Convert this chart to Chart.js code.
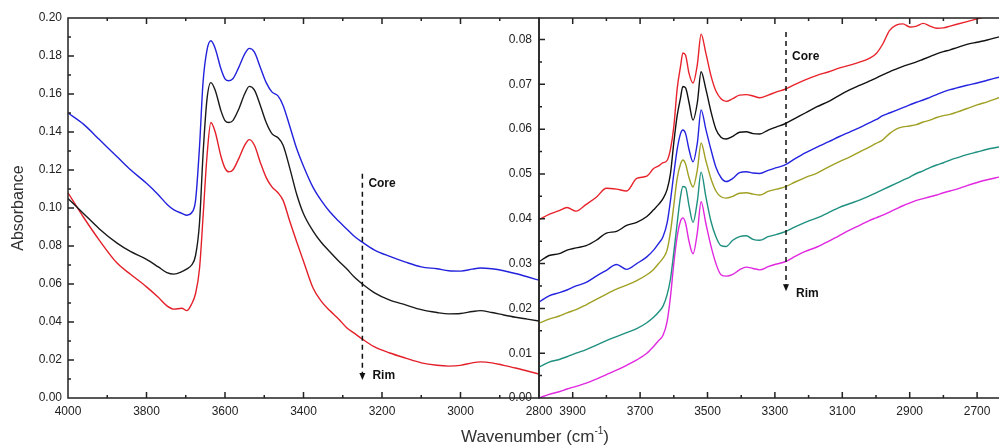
<!DOCTYPE html>
<html>
<head>
<meta charset="utf-8">
<script src="https://cdn.jsdelivr.net/npm/chart.js@4.4.1/dist/chart.umd.min.js"></script>
<style>
  html, body { margin: 0; padding: 0; background: #fff; }
  #wrap { position: relative; width: 999px; height: 446px; overflow: hidden; background: #fff; }
  #wrap canvas { position: absolute; top: 0; }
  #leftChart { left: 0; }
  #rightChart { left: 495px; }
</style>
</head>
<body>
<div id="wrap">
  <canvas id="leftChart" width="640" height="446"></canvas>
  <canvas id="rightChart" width="504" height="446"></canvas>
</div>
<script>
// painel esquerdo: número de onda (cm-1) e absorbância das três curvas
const leftWn = [4000, 3960, 3920, 3875, 3840, 3800, 3770, 3748, 3730, 3710, 3697, 3685, 3675, 3665, 3656, 3646, 3636, 3625, 3610, 3600, 3590, 3580, 3565, 3550, 3538, 3525, 3510, 3495, 3480, 3465, 3452, 3435, 3417, 3400, 3376, 3355, 3333, 3310, 3290, 3270, 3250, 3220, 3180, 3140, 3100, 3060, 3030, 3000, 2970, 2950, 2920, 2890, 2860, 2830, 2800];
const leftBlue = [0.150, 0.144, 0.136, 0.127, 0.120, 0.113, 0.107, 0.102, 0.099, 0.0972, 0.0962, 0.0975, 0.104, 0.132, 0.166, 0.183, 0.188, 0.184, 0.173, 0.168, 0.167, 0.168, 0.174, 0.181, 0.184, 0.182, 0.174, 0.166, 0.161, 0.159, 0.154, 0.143, 0.131, 0.122, 0.111, 0.104, 0.098, 0.093, 0.089, 0.085, 0.082, 0.078, 0.0745, 0.0715, 0.069, 0.068, 0.067, 0.0668, 0.0678, 0.0684, 0.068, 0.067, 0.0655, 0.0638, 0.062];
const leftBlack = [0.105, 0.097, 0.089, 0.0815, 0.077, 0.073, 0.069, 0.066, 0.0652, 0.0665, 0.068, 0.070, 0.075, 0.092, 0.128, 0.157, 0.166, 0.162, 0.151, 0.146, 0.145, 0.146, 0.152, 0.160, 0.164, 0.162, 0.154, 0.145, 0.139, 0.137, 0.133, 0.121, 0.107, 0.097, 0.088, 0.082, 0.077, 0.072, 0.068, 0.0635, 0.060, 0.0555, 0.0515, 0.049, 0.0465, 0.045, 0.0443, 0.0445, 0.0455, 0.046, 0.045, 0.0437, 0.0425, 0.0415, 0.0405];
const leftRed = [0.108, 0.095, 0.083, 0.071, 0.065, 0.0585, 0.053, 0.0485, 0.0468, 0.0472, 0.046, 0.0495, 0.055, 0.068, 0.095, 0.127, 0.145, 0.140, 0.127, 0.121, 0.119, 0.120, 0.126, 0.133, 0.136, 0.133, 0.124, 0.116, 0.111, 0.108, 0.104, 0.093, 0.082, 0.072, 0.058, 0.051, 0.046, 0.0415, 0.037, 0.034, 0.031, 0.027, 0.0237, 0.021, 0.0185, 0.0172, 0.0168, 0.0172, 0.0185, 0.019, 0.0185, 0.0172, 0.0158, 0.0142, 0.0126];

// painel direito: seis perfis do núcleo (core) até a borda (rim)
const rightWn = [4000, 3970, 3940, 3917, 3890, 3860, 3830, 3800, 3770, 3740, 3710, 3680, 3660, 3645, 3632, 3620, 3610, 3600, 3590, 3580, 3573, 3565, 3555, 3543, 3530, 3519, 3505, 3490, 3475, 3460, 3445, 3425, 3405, 3385, 3365, 3345, 3320, 3295, 3270, 3240, 3210, 3175, 3140, 3110, 3077, 3047, 3020, 3000, 2980, 2960, 2940, 2920, 2900, 2880, 2860, 2840, 2820, 2800, 2780, 2760, 2730, 2700, 2670, 2635];
const rightRed = [0.0398, 0.0410, 0.0418, 0.0425, 0.0417, 0.0432, 0.0448, 0.0468, 0.0466, 0.0462, 0.0490, 0.0495, 0.0512, 0.0518, 0.0525, 0.0530, 0.0555, 0.0605, 0.0690, 0.0740, 0.0770, 0.0765, 0.0725, 0.0703, 0.0745, 0.0812, 0.0770, 0.0720, 0.0685, 0.0668, 0.0662, 0.0668, 0.0676, 0.0677, 0.0674, 0.0670, 0.0676, 0.0683, 0.0689, 0.0700, 0.0710, 0.0720, 0.0728, 0.0736, 0.0743, 0.0750, 0.0758, 0.0768, 0.0790, 0.0820, 0.0832, 0.0835, 0.0828, 0.0830, 0.0836, 0.0830, 0.0825, 0.0826, 0.0830, 0.0834, 0.0840, 0.0846, 0.0852, 0.0858];
const rightBlack = [0.0304, 0.0318, 0.0322, 0.0330, 0.0335, 0.0340, 0.0352, 0.0368, 0.0372, 0.0385, 0.0392, 0.0405, 0.0420, 0.0432, 0.0445, 0.0465, 0.0500, 0.0570, 0.0630, 0.0670, 0.0695, 0.0692, 0.0660, 0.0620, 0.0660, 0.0728, 0.0690, 0.0640, 0.0600, 0.0582, 0.0578, 0.0584, 0.0593, 0.0594, 0.0590, 0.0589, 0.0598, 0.0605, 0.0612, 0.0624, 0.0636, 0.0650, 0.0662, 0.0675, 0.0688, 0.0698, 0.0707, 0.0714, 0.0721, 0.0728, 0.0734, 0.0740, 0.0745, 0.0750, 0.0756, 0.0762, 0.0768, 0.0773, 0.0777, 0.0782, 0.0789, 0.0794, 0.0799, 0.0806];
const rightBlue = [0.0214, 0.0228, 0.0235, 0.0241, 0.0250, 0.0258, 0.0272, 0.0285, 0.0298, 0.0287, 0.0300, 0.0315, 0.0330, 0.0345, 0.0360, 0.0390, 0.0440, 0.0500, 0.0555, 0.0590, 0.0598, 0.0590, 0.0555, 0.0527, 0.0570, 0.0643, 0.0600, 0.0555, 0.0515, 0.0492, 0.0483, 0.0490, 0.0503, 0.0505, 0.0502, 0.0501, 0.0508, 0.0514, 0.0520, 0.0534, 0.0547, 0.0560, 0.0572, 0.0583, 0.0594, 0.0604, 0.0614, 0.0621, 0.0630, 0.0636, 0.0642, 0.0648, 0.0654, 0.0660, 0.0665, 0.0671, 0.0677, 0.0683, 0.0688, 0.0692, 0.0698, 0.0703, 0.0709, 0.0716];
const rightOlive = [0.0167, 0.0176, 0.0183, 0.0190, 0.0197, 0.0208, 0.0220, 0.0232, 0.0243, 0.0252, 0.0262, 0.0275, 0.0287, 0.0300, 0.0312, 0.0330, 0.0370, 0.0430, 0.0490, 0.0522, 0.0531, 0.0522, 0.0492, 0.0471, 0.0510, 0.0569, 0.0530, 0.0490, 0.0462, 0.0449, 0.0446, 0.0450, 0.0457, 0.0458, 0.0455, 0.0453, 0.0461, 0.0466, 0.0471, 0.0482, 0.0492, 0.0502, 0.0516, 0.0527, 0.0538, 0.0550, 0.0560, 0.0568, 0.0576, 0.0590, 0.0600, 0.0605, 0.0607, 0.0610, 0.0616, 0.0620, 0.0626, 0.0630, 0.0633, 0.0638, 0.0646, 0.0654, 0.0661, 0.0670];
const rightTeal = [0.0069, 0.0080, 0.0086, 0.0092, 0.0100, 0.0108, 0.0118, 0.0128, 0.0137, 0.0146, 0.0155, 0.0168, 0.0180, 0.0192, 0.0205, 0.0230, 0.0265, 0.0325, 0.0390, 0.0450, 0.0472, 0.0470, 0.0430, 0.0392, 0.0440, 0.0504, 0.0450, 0.0395, 0.0360, 0.0340, 0.0338, 0.0352, 0.0360, 0.0362, 0.0354, 0.0352, 0.0360, 0.0365, 0.0371, 0.0382, 0.0392, 0.0402, 0.0414, 0.0425, 0.0434, 0.0442, 0.0451, 0.0458, 0.0465, 0.0472, 0.0479, 0.0486, 0.0493, 0.0501, 0.0507, 0.0514, 0.0520, 0.0525, 0.0531, 0.0536, 0.0543, 0.0549, 0.0555, 0.0560];
const rightMagenta = [0.0000, 0.0008, 0.0014, 0.0020, 0.0026, 0.0033, 0.0042, 0.0052, 0.0062, 0.0073, 0.0085, 0.0100, 0.0115, 0.0128, 0.0140, 0.0170, 0.0225, 0.0300, 0.0360, 0.0395, 0.0402, 0.0390, 0.0350, 0.0322, 0.0370, 0.0438, 0.0390, 0.0340, 0.0300, 0.0275, 0.0272, 0.0276, 0.0286, 0.0292, 0.0289, 0.0286, 0.0293, 0.0299, 0.0304, 0.0316, 0.0327, 0.0337, 0.0350, 0.0362, 0.0375, 0.0386, 0.0396, 0.0402, 0.0408, 0.0415, 0.0422, 0.0429, 0.0435, 0.0441, 0.0445, 0.0449, 0.0453, 0.0458, 0.0462, 0.0466, 0.0474, 0.0481, 0.0487, 0.0493];

const FONT = '"Liberation Sans", Arial, sans-serif';
const AXIS = '#222';

// monta um dataset de linha a partir de x e y
function serie(xs, ys, color) {
    return {
        data: xs.map((x, i) => ({ x: x, y: ys[i] })),
        borderColor: color,
        borderWidth: 1.4,
        pointRadius: 0,
        fill: false,
        cubicInterpolationMode: 'monotone'
    };
}

// moldura e marcas de escala para dentro (maiores e menores)
function makeFrame(xMajor, yMajor, closeRight) {
    return {
        id: 'frame',
        afterDraw(chart) {
            const { ctx, chartArea: a, scales } = chart;
            ctx.save();
            ctx.strokeStyle = AXIS;
            ctx.lineWidth = 1.5;
            ctx.beginPath();
            if (closeRight) {
                ctx.rect(a.left, a.top, a.right - a.left, a.bottom - a.top);
            } else {
                ctx.moveTo(a.right + 2, a.top);
                ctx.lineTo(a.left, a.top);
                ctx.lineTo(a.left, a.bottom);
                ctx.lineTo(a.right + 2, a.bottom);
            }
            scales.x.ticks.forEach(t => {
                const p = scales.x.getPixelForValue(t.value);
                const len = xMajor(t.value) ? 6 : 3;
                ctx.moveTo(p, a.bottom); ctx.lineTo(p, a.bottom - len);
                ctx.moveTo(p, a.top); ctx.lineTo(p, a.top + len);
            });
            scales.y.ticks.forEach(t => {
                const p = scales.y.getPixelForValue(t.value);
                const len = yMajor(t.value) ? 6 : 3;
                ctx.moveTo(a.left, p); ctx.lineTo(a.left + len, p);
            });
            ctx.stroke();
            ctx.restore();
        }
    };
}

// seta tracejada Core -> Rim
function makeArrow(wn, yTop, yTip, coreY, rimY) {
    return {
        id: 'arrow',
        afterDraw(chart) {
            const { ctx, scales } = chart;
            const x = scales.x.getPixelForValue(wn);
            const y0 = scales.y.getPixelForValue(yTop);
            const y1 = scales.y.getPixelForValue(yTip);
            ctx.save();
            ctx.strokeStyle = '#111';
            ctx.fillStyle = '#111';
            ctx.lineWidth = 1.5;
            ctx.setLineDash([5, 4]);
            ctx.beginPath();
            ctx.moveTo(x, y0);
            ctx.lineTo(x, y1 - 6);
            ctx.stroke();
            ctx.setLineDash([]);
            ctx.beginPath();
            ctx.moveTo(x - 3, y1 - 7);
            ctx.lineTo(x + 3, y1 - 7);
            ctx.lineTo(x, y1);
            ctx.closePath();
            ctx.fill();
            ctx.font = 'bold 12px ' + FONT;
            ctx.textBaseline = 'middle';
            ctx.textAlign = 'left';
            ctx.fillText('Core', x + 6, scales.y.getPixelForValue(coreY));
            ctx.fillText('Rim', x + 10, scales.y.getPixelForValue(rimY));
            ctx.restore();
        }
    };
}

// título do eixo x compartilhado, com expoente
const xTitle = {
    id: 'xTitle',
    afterDraw(chart) {
        const ctx = chart.ctx;
        ctx.save();
        ctx.fillStyle = '#333';
        ctx.textBaseline = 'alphabetic';
        ctx.textAlign = 'left';
        const big = '17px ' + FONT, small = '10px ' + FONT;
        ctx.font = big;
        const w1 = ctx.measureText('Wavenumber (cm').width;
        const w3 = ctx.measureText(')').width;
        ctx.font = small;
        const w2 = ctx.measureText('-1').width;
        let x = 535 - (w1 + w2 + w3) / 2;
        const y = 442;
        ctx.font = big;
        ctx.fillText('Wavenumber (cm', x, y);
        x += w1;
        ctx.font = small;
        ctx.fillText('-1', x, y - 8);
        x += w2;
        ctx.font = big;
        ctx.fillText(')', x, y);
        ctx.restore();
    }
};

const isMajorLeftX = v => Math.round(v) % 200 === 0;
const isMajorLeftY = v => Math.round(v * 100) % 2 === 0;
const isMajorRightX = v => Math.round(v - 100) % 200 === 0;
const isMajorRightY = v => Math.abs(v * 100 - Math.round(v * 100)) < 1e-6;

const tickFont = { family: FONT, size: 12 };

new Chart(document.getElementById('leftChart'), {
    type: 'line',
    data: {
        datasets: [
            serie(leftWn, leftBlue, '#2222dd'),
            serie(leftWn, leftBlack, '#1a1a1a'),
            serie(leftWn, leftRed, '#e3202a')
        ]
    },
    options: {
        responsive: false,
        animation: false,
        devicePixelRatio: 1,
        layout: { padding: { top: 18, right: 101, left: 0, bottom: 0 } },
        plugins: { legend: { display: false }, tooltip: { enabled: false } },
        scales: {
            x: {
                type: 'linear', reverse: true, min: 2800, max: 4000,
                grid: { display: false, drawTicks: false },
                border: { display: false },
                ticks: {
                    stepSize: 100, autoSkip: false, maxRotation: 0, padding: 6,
                    color: AXIS, font: tickFont,
                    callback: v => isMajorLeftX(v) ? String(v) : ''
                },
                afterFit: s => { s.height = 48; }
            },
            y: {
                min: 0, max: 0.20,
                grid: { display: false, drawTicks: false },
                border: { display: false },
                ticks: {
                    stepSize: 0.01, autoSkip: false, padding: 6,
                    color: AXIS, font: tickFont,
                    callback: v => isMajorLeftY(v) ? v.toFixed(2) : ''
                },
                title: { display: true, text: 'Absorbance', color: '#333', font: { family: FONT, size: 16 }, padding: { top: 9, bottom: 0 } },
                afterFit: s => { s.width = 68; }
            }
        }
    },
    plugins: [makeFrame(isMajorLeftX, isMajorLeftY, true), makeArrow(3250, 0.118, 0.0095, 0.113, 0.012), xTitle]
});

new Chart(document.getElementById('rightChart'), {
    type: 'line',
    data: {
        datasets: [
            serie(rightWn, rightRed, '#e8232b'),
            serie(rightWn, rightBlack, '#111111'),
            serie(rightWn, rightBlue, '#2424e0'),
            serie(rightWn, rightOlive, '#a0a024'),
            serie(rightWn, rightTeal, '#1f9080'),
            serie(rightWn, rightMagenta, '#e028e0')
        ]
    },
    options: {
        responsive: false,
        animation: false,
        devicePixelRatio: 1,
        layout: { padding: { top: 18, right: 0, left: 0, bottom: 0 } },
        plugins: { legend: { display: false }, tooltip: { enabled: false } },
        scales: {
            x: {
                type: 'linear', reverse: true, min: 2635, max: 4000,
                grid: { display: false, drawTicks: false },
                border: { display: false },
                ticks: {
                    stepSize: 100, autoSkip: false, maxRotation: 0, padding: 6, includeBounds: false,
                    color: AXIS, font: tickFont,
                    callback: v => isMajorRightX(v) ? String(v) : ''
                },
                afterFit: s => { s.height = 48; }
            },
            y: {
                min: 0, max: 0.0848,
                grid: { display: false, drawTicks: false },
                border: { display: false },
                ticks: {
                    stepSize: 0.005, autoSkip: false, padding: 7, includeBounds: false,
                    color: AXIS, font: tickFont,
                    callback: v => isMajorRightY(v) ? v.toFixed(2) : ''
                },
                afterFit: s => { s.width = 44; }
            }
        }
    },
    plugins: [makeFrame(isMajorRightX, isMajorRightY, false), makeArrow(3267, 0.0817, 0.0238, 0.0761, 0.0232)]
});
</script>
</body>
</html>
